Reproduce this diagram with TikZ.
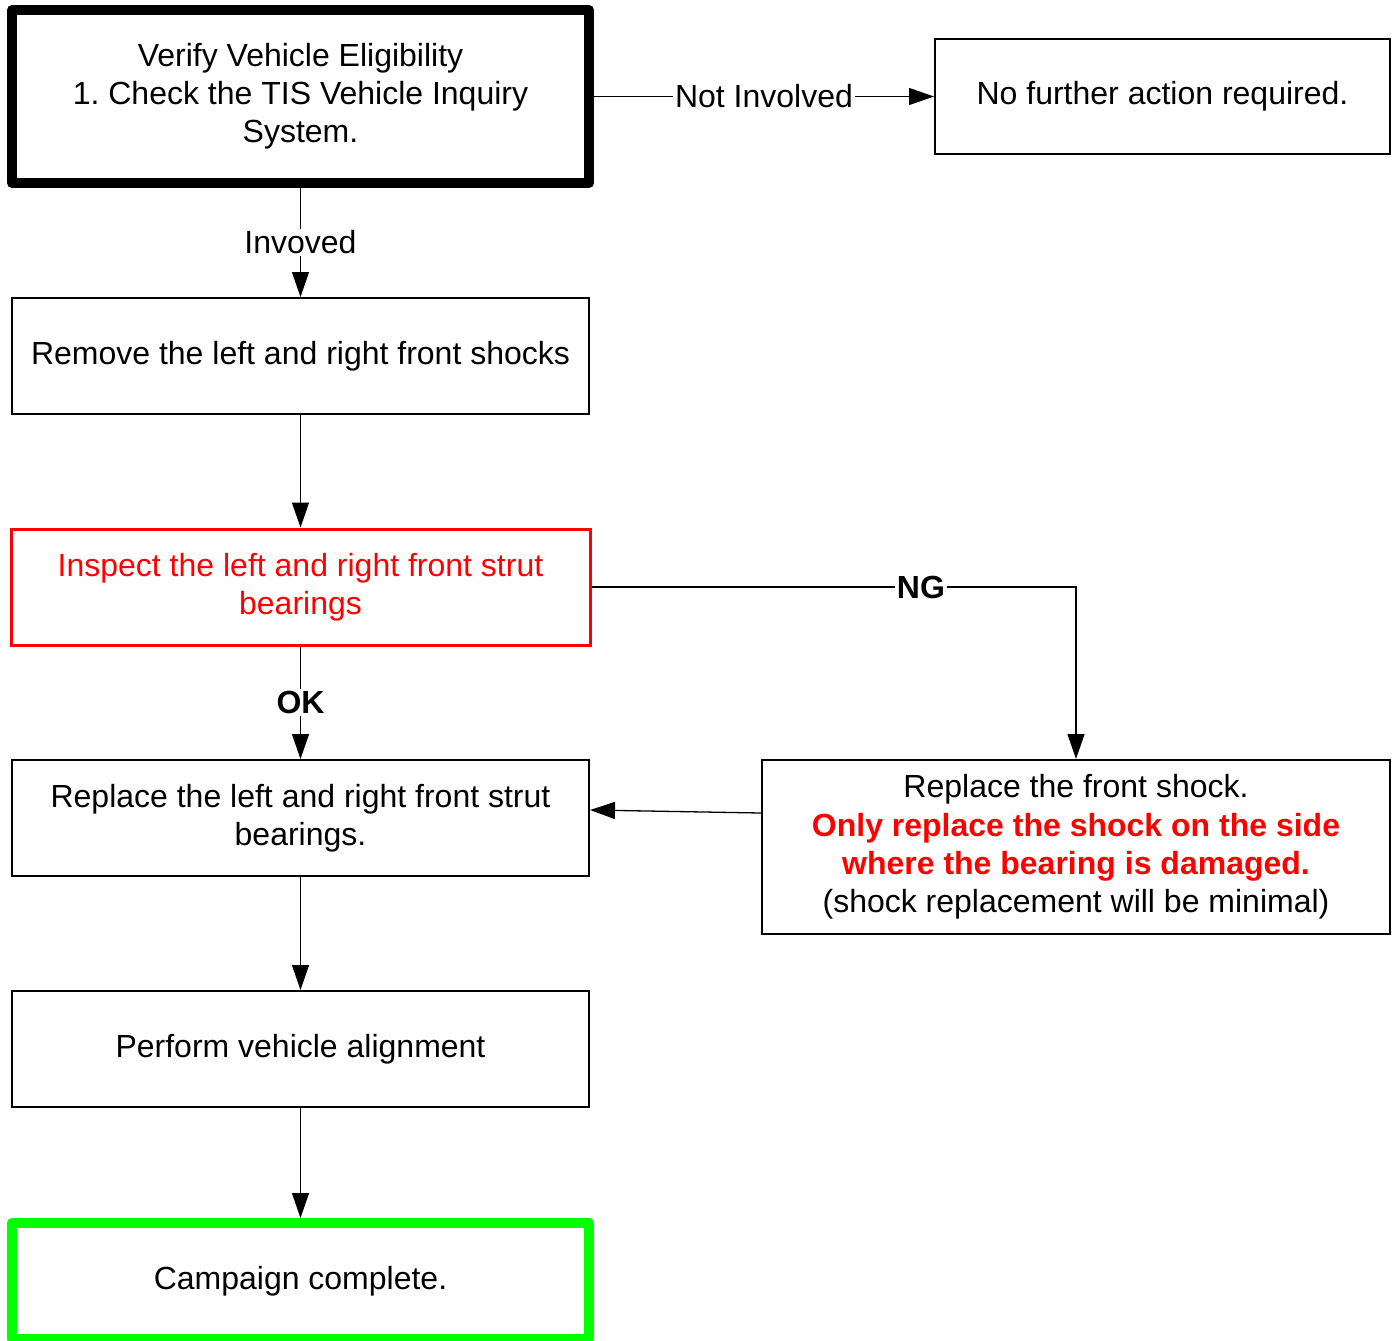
\documentclass[tikz,border=0pt]{standalone}
\usepackage{fontspec}
\setmainfont{Liberation Sans}
\usetikzlibrary{arrows.meta}
\definecolor{pred}{RGB}{255,0,0}
\definecolor{pgreen}{RGB}{0,255,0}
\frenchspacing
\begin{document}
\begin{tikzpicture}[x=0.5pt,y=-0.5pt,
  font=\fontsize{16}{19.1}\selectfont,
  box/.style={draw, line width=1pt, align=center, inner sep=0pt,
    minimum width=288.5pt, minimum height=58pt},
  conn/.style={line width=0.65pt, -{Triangle[length=12.5pt,width=8.5pt]}},
  lbl/.style={fill=white, inner sep=1pt}]
\useasboundingbox (0,0) rectangle (1392,1340);

\node[box, line width=5pt, line join=round, minimum height=86.5pt] (verify) at (300.5,96.5)
  {Verify Vehicle Eligibility\\1. Check the TIS Vehicle Inquiry\\System.};
\node[box, minimum width=227.5pt, minimum height=57.5pt] (nof) at (1162.5,96.5)
  {No further action required.};
\node[box] (remove) at (300.5,356) {Remove the left and right front shocks};
\node[box, draw=pred, text=pred, line width=1.5pt, minimum width=289.5pt] (inspect) at (300.5,587)
  {Inspect the left and right front strut\\bearings};
\node[box] (bear) at (300.5,818) {Replace the left and right front strut\\bearings.};
\node[box, minimum width=314pt, minimum height=87pt] (shock) at (1076,847)
  {Replace the front shock.\\
   {\color{pred}\bfseries Only replace the shock on the side}\\
   {\color{pred}\bfseries where the bearing is damaged.}\\
   (shock replacement will be minimal)};
\node[box] (align) at (300.5,1049) {Perform vehicle alignment};
\node[box, draw=pgreen, line width=5pt, line join=round] (done) at (300.5,1281) {Campaign complete.};

\draw[conn] (verify) -- node[lbl]{Not Involved} (nof);
\draw[conn] (verify) -- node[lbl]{Invoved} (remove);
\draw[conn] (remove) -- (inspect);
\draw[conn] (inspect) -- node[lbl]{\bfseries OK} (bear);
\draw[conn] (inspect.east) -| node[lbl, pos=0.34]{\bfseries NG} (shock.north);
\draw[conn] ([yshift=17pt]shock.west) -- ([yshift=4pt]bear.east);
\draw[conn] (bear) -- (align);
\draw[conn] (align) -- (done);
\end{tikzpicture}
\end{document}
